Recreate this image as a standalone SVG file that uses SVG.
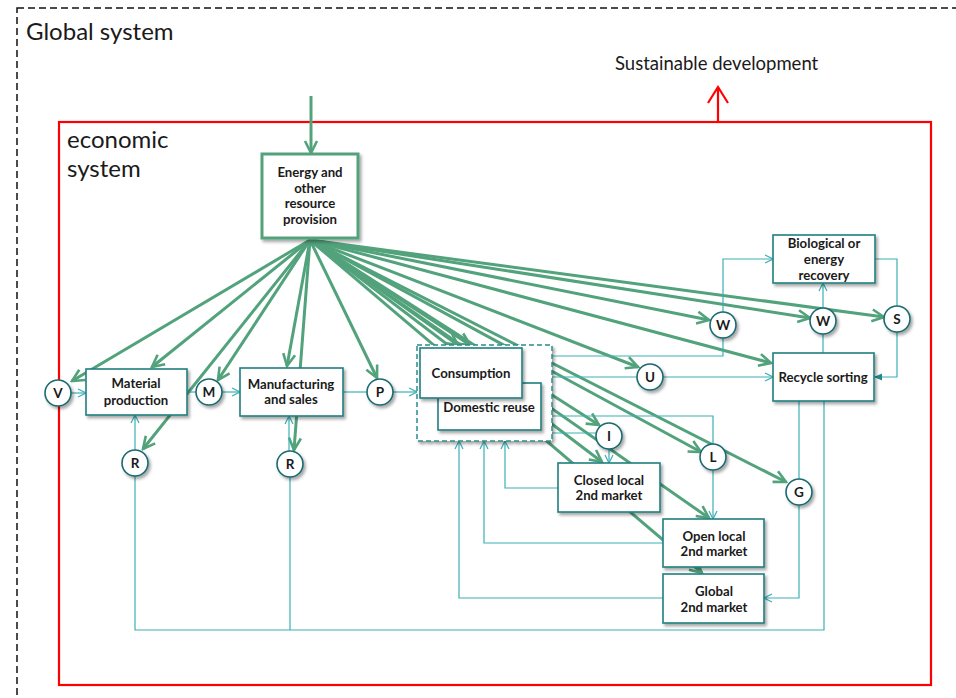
<svg xmlns="http://www.w3.org/2000/svg" width="956" height="698" viewBox="0 0 956 698">
<style>
.g{fill:none;stroke:#52a27c;stroke-width:3;marker-end:url(#ga)}
.t{fill:none;stroke:#3cafb4;stroke-width:1.2}
.ta{marker-end:url(#ta)}
.box{fill:#fff;stroke:#1f7f80;stroke-width:1.6;filter:url(#sh)}
.cir{fill:#fff;stroke:#1a6a70;stroke-width:1.6;filter:url(#sh)}
.lb{font-family:Lato,"Liberation Sans",sans-serif;font-weight:bold;font-size:13.2px;fill:#1a1a1a;text-anchor:middle}
.cl{font-family:Lato,"Liberation Sans",sans-serif;font-weight:bold;font-size:13.5px;fill:#1a1a1a;text-anchor:middle}
.big{font-family:Lato,"Liberation Sans",sans-serif;fill:#1a1a1a}
</style>
<defs>
<filter id="sh" x="-20%" y="-20%" width="150%" height="150%"><feDropShadow dx="2" dy="2.5" stdDeviation="1.5" flood-color="#000" flood-opacity="0.35"/></filter>
<marker id="ga" viewBox="0 0 16 16" refX="14" refY="8" markerWidth="16" markerHeight="16" markerUnits="userSpaceOnUse" orient="auto"><path d="M2,2 L14,8 L2,14" fill="none" stroke="#52a27c" stroke-width="2.6"/></marker>
<marker id="ta" viewBox="0 0 10 10" refX="9" refY="5" markerWidth="10" markerHeight="10" markerUnits="userSpaceOnUse" orient="auto"><path d="M1,1 L9,5 L1,9" fill="none" stroke="#3cafb4" stroke-width="1.2"/></marker>
<marker id="tf" viewBox="0 0 10 10" refX="9" refY="5" markerWidth="9" markerHeight="9" markerUnits="userSpaceOnUse" orient="auto"><path d="M0,1 L9,5 L0,9 z" fill="#1f8a8e"/></marker>
</defs>
<rect width="956" height="698" fill="#fff"/>
<g id="global-system">
<rect x="17" y="8" width="960" height="720" fill="none" stroke="#111" stroke-width="1.5" stroke-dasharray="7,4"/>
<text x="26" y="40" class="big" font-size="24">Global system</text>
</g>
<g id="economic-system">
<rect x="59" y="122" width="872" height="563" fill="none" stroke="#ff0000" stroke-width="2.2"/>
<text x="67" y="148" class="big" font-size="24">economic</text>
<text x="67" y="177" class="big" font-size="24">system</text>
</g>
<g id="sustainable">
<line x1="718" y1="122" x2="718" y2="87" stroke="#ff0000" stroke-width="2.2"/>
<polyline points="708,103 718,87 728,103" fill="none" stroke="#ff0000" stroke-width="2.2"/>
<text x="615" y="70" class="big" font-size="18.5">Sustainable development</text>
</g>
<g id="connectors">
<line class="g" x1="311" y1="96" x2="311" y2="153"/>
<line class="g" x1="310" y1="240" x2="72" y2="381"/>
<line class="g" x1="310" y1="240" x2="152" y2="367"/>
<line class="g" x1="310" y1="240" x2="143" y2="449"/>
<line class="g" x1="310" y1="240" x2="218" y2="380"/>
<line class="g" x1="310" y1="240" x2="287" y2="366"/>
<line class="g" x1="310" y1="240" x2="294" y2="450"/>
<line class="g" x1="310" y1="240" x2="377" y2="378"/>
<line class="g" x1="310" y1="240" x2="458" y2="345"/>
<line class="g" x1="310" y1="240" x2="470" y2="345"/>
<line class="g" x1="310" y1="240" x2="638" y2="367"/>
<line class="g" x1="310" y1="240" x2="709" y2="320"/>
<line class="g" x1="310" y1="240" x2="771" y2="363"/>
<line class="g" x1="310" y1="240" x2="810" y2="318"/>
<line class="g" x1="310" y1="240" x2="884" y2="317"/>
<line class="g" x1="310" y1="240" x2="786" y2="482"/>
<line class="g" x1="310" y1="240" x2="701" y2="452"/>
<line class="g" x1="310" y1="240" x2="599" y2="425"/>
<line class="g" x1="310" y1="240" x2="602" y2="462"/>
<line class="g" x1="310" y1="240" x2="709" y2="518"/>
<line class="g" x1="310" y1="240" x2="702" y2="573"/>
<path class="t ta" d="M71,393 H86"/>
<path class="t" d="M187,392 H196"/>
<path class="t ta" d="M222,392 H240"/>
<path class="t" d="M343,392 H367"/>
<path class="t ta" d="M393,392 H417"/>
<path class="t ta" d="M135,450 V415"/>
<path class="t ta" d="M289,451 V416"/>
<path class="t" d="M824,401 V630 H135 V476"/>
<path class="t" d="M290,630 V477"/>
<path class="t" d="M799,401 V479"/>
<path class="t ta" d="M799,505 V598 H764"/>
<path class="t" d="M552,356 H723 V338"/>
<path class="t ta" d="M723,312 V259 H773"/>
<path class="t" d="M552,377 H637"/>
<path class="t ta" d="M663,377 H773"/>
<path class="t" d="M823,353 V334"/>
<path class="t ta" d="M823,308 V283"/>
<path class="t" d="M875,259 H897 V306"/>
<path class="t" d="M897,332 V377 H874" marker-end="url(#tf)"/>
<path class="t" d="M552,416 H713 V444"/>
<path class="t ta" d="M713,470 V519"/>
<path class="t" d="M552,433 H596"/>
<path class="t ta" d="M609,449 V463"/>
<path class="t ta" d="M558,488 H505 V441"/>
<path class="t ta" d="M663,543 H484 V441"/>
<path class="t ta" d="M663,598 H459 V441"/>
</g>
<g id="energy">
<rect x="262" y="154" width="96" height="84" fill="#fff" stroke="#52a27c" stroke-width="3" filter="url(#sh)"/>
<text class="lb" x="310" y="177">Energy and</text>
<text class="lb" x="310" y="193">other</text>
<text class="lb" x="310" y="208">resource</text>
<text class="lb" x="310" y="224">provision</text>
</g>
<g id="material-production">
<rect class="box" x="86" y="369" width="101" height="46"/>
<text class="lb" x="136" y="388">Material</text>
<text class="lb" x="136" y="405">production</text>
</g>
<g id="manufacturing">
<rect class="box" x="240" y="368" width="103" height="48"/>
<text class="lb" x="291" y="389">Manufacturing</text>
<text class="lb" x="291" y="404">and sales</text>
</g>
<g id="consumption-cluster">
<rect x="417" y="345" width="135" height="96" fill="#fff" stroke="#2e8b8b" stroke-width="1.5" stroke-dasharray="5,3" filter="url(#sh)"/>
</g>
<g id="domestic-reuse">
<rect class="box" x="438" y="383" width="103" height="47"/>
<text class="lb" x="489" y="412">Domestic reuse</text>
</g>
<g id="consumption">
<rect class="box" x="420" y="348" width="102" height="50"/>
<text class="lb" x="471" y="378">Consumption</text>
</g>
<g id="closed-local">
<rect class="box" x="558" y="463" width="102" height="49"/>
<text class="lb" x="609" y="485">Closed local</text>
<text class="lb" x="609" y="500">2nd market</text>
</g>
<g id="open-local">
<rect class="box" x="663" y="519" width="101" height="48"/>
<text class="lb" x="714" y="541">Open local</text>
<text class="lb" x="714" y="556">2nd market</text>
</g>
<g id="global-market">
<rect class="box" x="663" y="574" width="101" height="49"/>
<text class="lb" x="714" y="596">Global</text>
<text class="lb" x="714" y="612">2nd market</text>
</g>
<g id="biological">
<rect class="box" x="773" y="235" width="102" height="48"/>
<text class="lb" x="824" y="248">Biological or</text>
<text class="lb" x="824" y="264">energy</text>
<text class="lb" x="824" y="280">recovery</text>
</g>
<g id="recycle">
<rect class="box" x="773" y="353" width="101" height="48"/>
<text class="lb" x="823" y="382">Recycle sorting</text>
</g>
<g id="c-V"><circle class="cir" cx="58" cy="393" r="13"/><text class="cl" x="58" y="398">V</text></g>
<g id="c-M"><circle class="cir" cx="209" cy="392" r="13"/><text class="cl" x="209" y="397">M</text></g>
<g id="c-P"><circle class="cir" cx="380" cy="392" r="13"/><text class="cl" x="380" y="397">P</text></g>
<g id="c-R1"><circle class="cir" cx="135" cy="463" r="13"/><text class="cl" x="135" y="468">R</text></g>
<g id="c-R2"><circle class="cir" cx="290" cy="464" r="13"/><text class="cl" x="290" y="469">R</text></g>
<g id="c-U"><circle class="cir" cx="650" cy="377" r="13"/><text class="cl" x="650" y="382">U</text></g>
<g id="c-I"><circle class="cir" cx="609" cy="436" r="13"/><text class="cl" x="609" y="441">I</text></g>
<g id="c-L"><circle class="cir" cx="713" cy="457" r="13"/><text class="cl" x="713" y="462">L</text></g>
<g id="c-G"><circle class="cir" cx="799" cy="492" r="13"/><text class="cl" x="799" y="497">G</text></g>
<g id="c-W1"><circle class="cir" cx="723" cy="325" r="13"/><text class="cl" x="723" y="330">W</text></g>
<g id="c-W2"><circle class="cir" cx="823" cy="321" r="13"/><text class="cl" x="823" y="326">W</text></g>
<g id="c-S"><circle class="cir" cx="897" cy="319" r="13"/><text class="cl" x="897" y="324">S</text></g>
</svg>
